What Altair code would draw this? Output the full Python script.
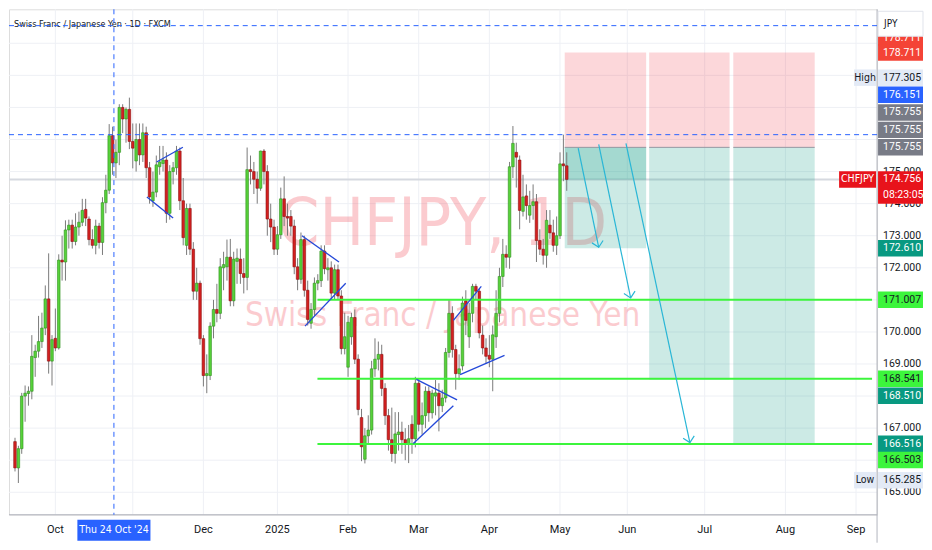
import altair as alt
import pandas as pd

# ---------------- data ----------------
opens = [166.58,165.76,166.36,168.00,168.08,168.15,169.20,169.40,169.70,170.12,
         171.03,169.09,169.80,169.50,172.24,172.18,173.18,173.33,172.82,173.27,
         173.42,173.82,173.52,172.88,172.70,173.30,172.79,174.03,174.42,176.12,
         175.27,175.60,177.00,176.64,176.94,175.94,175.33,176.00,175.52,176.21,
         175.12,174.09,174.36,175.15,175.25,175.36,173.70,175.00,175.12,175.64,
         174.09,172.70,173.85,172.58,171.27,171.52,169.79,168.64,168.64,170.18,
         170.70,170.58,172.00,172.03,172.33,170.97,172.20,172.27,171.82,171.70,
         175.06,175.00,174.76,174.48,175.64,175.00,173.52,173.27,172.58,173.03,
         174.15,173.60,173.60,173.30,172.03,171.64,172.88,171.30,170.27,170.70,
         171.52,171.60,172.52,171.94,172.00,171.21,171.94,171.12,169.48,168.90,
         169.85,170.45,169.15,167.33,166.03,166.76,166.94,168.85,169.15,169.30,
         168.24,167.39,166.64,166.21,166.80,166.88,166.64,166.50,167.12,166.67,
         168.40,167.12,167.39,168.15,167.48,168.00,168.09,167.70,167.94,169.36,
         170.58,169.45,168.70,168.94,170.97,169.85,170.58,171.42,171.27,169.90,
         169.50,169.27,169.15,169.85,170.58,171.73,172.42,172.33,175.15,175.60,
         175.36,173.76,174.24,173.64,173.94,174.06,172.85,172.58,172.39,173.33,
         173.09,172.70,173.00,175.24,175.18]
highs = [166.70,166.45,168.10,168.33,168.30,169.90,169.60,170.50,170.60,171.45,
         172.45,169.90,170.73,172.42,173.00,173.48,173.50,173.50,173.70,173.75,
         174.15,174.15,173.60,173.20,173.50,173.40,174.20,174.90,176.48,176.40,
         176.00,177.10,177.10,177.00,177.305,176.50,176.50,176.50,176.50,176.40,
         175.30,175.00,175.50,175.80,175.80,175.60,175.20,175.30,175.80,175.75,
         174.80,174.00,174.00,172.80,172.00,171.60,169.90,169.30,170.30,171.00,
         171.50,172.30,172.50,172.88,172.90,172.50,172.60,172.60,172.30,175.75,
         175.50,175.30,175.00,175.65,175.70,175.20,174.00,173.50,173.30,174.50,
         174.85,174.00,173.80,173.50,172.30,173.10,173.00,171.60,170.90,171.70,
         171.80,172.70,172.70,172.30,172.20,172.10,172.10,171.30,170.60,170.50,
         170.60,170.70,169.30,167.60,167.00,167.40,169.10,169.80,169.70,169.60,
         168.40,167.60,167.64,167.50,167.50,167.20,167.00,167.10,167.40,168.60,
         168.55,167.80,168.30,168.30,168.20,168.50,168.40,168.20,169.50,171.00,
         170.80,169.60,169.30,171.10,171.30,170.90,171.50,171.50,171.35,170.20,
         169.80,169.90,170.20,171.30,172.00,172.90,172.70,175.30,176.42,175.90,
         175.50,174.90,174.60,174.40,174.60,174.30,173.20,172.90,173.80,173.80,
         173.50,173.60,175.60,176.15,175.60]
lows = [165.65,165.29,166.20,167.20,167.70,167.90,168.60,169.20,169.50,169.90,
        168.70,168.33,169.40,169.45,171.60,171.60,172.60,172.60,172.70,173.00,
        173.30,173.30,172.70,172.60,172.42,172.60,172.40,173.70,174.30,174.90,
        174.80,175.20,176.20,175.90,175.70,175.10,175.00,175.20,175.30,174.80,
        174.00,173.90,174.20,174.90,175.00,173.40,173.50,174.60,174.90,173.80,
        172.70,172.40,172.40,171.00,171.00,169.60,168.30,168.09,168.50,169.80,
        170.30,170.40,171.30,171.60,170.80,170.80,171.50,171.50,171.20,171.30,
        174.60,174.30,174.00,174.40,174.60,173.00,172.80,172.40,172.40,172.90,
        173.30,173.00,173.00,171.80,171.30,171.50,171.10,170.20,170.10,170.50,
        171.30,171.40,171.80,171.60,171.00,171.00,171.00,169.30,169.30,168.60,
        169.60,169.00,167.40,165.97,165.90,166.50,166.80,168.60,168.80,168.00,
        167.10,166.30,165.95,165.90,166.30,166.20,166.00,165.91,166.20,166.40,
        166.90,166.80,167.00,167.20,167.30,167.40,166.90,167.50,167.80,169.20,
        169.20,168.20,168.50,168.80,169.90,169.50,170.30,171.00,169.80,169.30,
        169.00,168.90,168.15,169.50,170.30,171.40,172.00,171.97,174.80,174.50,
        173.20,173.60,173.50,173.40,173.50,172.18,172.40,172.10,172.00,172.90,
        172.50,172.40,172.90,174.70,174.40]
closes = [165.76,166.36,168.00,168.09,168.15,169.24,169.40,169.70,170.12,171.03,
          169.09,169.76,169.50,172.24,172.18,173.18,173.33,172.82,173.27,173.42,
          173.79,173.55,172.88,172.70,173.30,172.79,174.03,174.42,176.12,175.27,
          175.60,177.00,176.64,176.94,175.94,175.73,176.00,175.52,176.21,175.12,
          174.21,174.36,175.21,175.30,175.36,173.70,175.00,175.12,175.64,174.09,
          172.94,173.85,172.58,171.27,171.52,169.79,168.64,168.70,170.18,170.70,
          170.58,172.03,172.10,172.33,170.97,172.27,172.30,171.82,171.70,175.06,
          175.00,174.76,174.48,175.64,175.00,173.52,173.27,172.58,173.03,174.15,
          173.60,173.55,173.30,172.03,171.64,172.88,171.30,170.39,170.70,171.52,
          171.60,172.52,171.97,172.00,171.21,171.94,171.12,169.48,169.85,170.30,
          170.45,169.15,167.58,166.42,166.76,166.94,168.85,169.15,169.30,168.24,
          167.39,166.64,166.21,166.82,166.88,166.64,166.50,166.67,166.67,168.40,
          167.12,167.39,168.15,167.48,168.09,168.10,167.70,167.94,169.36,170.58,
          169.45,168.70,168.85,170.90,170.36,170.58,171.42,171.27,169.97,169.50,
          169.24,169.15,169.91,170.58,171.73,172.42,172.33,175.15,175.88,175.45,
          173.79,174.21,173.94,173.94,174.06,172.85,172.58,172.39,173.48,173.09,
          172.70,173.00,175.24,175.18,174.756]

# time axis: grid at every month start, labels where the reference shows one
month_index = [12, 35, 56, 78, 99, 120, 141, 162, 182, 205, 229, 250]
label_index = [12, 56, 78, 99, 120, 141, 162, 182, 205, 229, 250]
label_text = ["Oct", "Dec", "2025", "Feb", "Mar", "Apr", "May", "Jun", "Jul", "Aug", "Sep"]
# price axis: grid at every integer, labels that are not hidden by badges
grid_prices = list(range(165, 180))
label_prices = [165, 167, 169, 170, 172, 173, 174, 175]

symbol_title = "Swiss Franc / Japanese Yen · 1D · FXCM"
watermark_big = "CHFJPY, 1D"
watermark_small = "Swiss Franc / Japanese Yen"
ticker = "CHFJPY"
currency = "JPY"
last_price = 174.756
countdown = "08:23:05"

pos_x0 = [163.4, 188.5, 213.5]
pos_x1 = [187.6, 212.4, 237.7]
pos_entry = [175.755, 175.755, 175.755]
pos_stop = [178.711, 178.711, 178.711]
pos_target = [172.610, 168.510, 166.516]

support_prices = [171.007, 168.541, 166.503]
support_start = 89.9

dashed_prices = [179.55, 176.151]
dashed_day = 29.4
dashed_day_label = "Thu 24 Oct '24"

trend_x0 = [42.1, 39.2, 85.3, 86.2, 119.3, 118.4, 130.3, 132.3]
trend_p0 = [175.30, 174.21, 173.00, 170.18, 168.52, 166.52, 170.36, 168.67]
trend_x1 = [49.9, 47.0, 96.3, 98.3, 131.4, 130.3, 138.6, 145.5]
trend_p1 = [175.76, 173.55, 172.18, 171.52, 167.88, 167.70, 171.42, 169.27]

arrow_x0 = [167.4, 173.5, 181.6]
arrow_p0 = [175.73, 175.85, 175.88]
arrow_x1 = [173.5, 183.0, 200.6]
arrow_p1 = [172.64, 171.06, 166.55]

badge_text = ["178.711", "178.711", "177.305", "176.151", "175.755", "175.755", "175.755",
              "172.610", "171.007", "168.541", "168.510", "166.516", "166.503", "165.285"]
badge_price = [178.711, 178.711, 177.305, 176.151, 175.755, 175.755, 175.755,
               172.610, 171.007, 168.541, 168.510, 166.516, 166.503, 165.285]

# ---------------- layout / style ----------------
W, H = 869, 506
XD = [-0.3, 254.75]
YD = [164.30, 180.06]
K = (YD[1] - YD[0]) / H
IPP = (XD[1] - XD[0]) / W

RED_B, LIGHT, BLUE, GRAY, TEAL, LIME = "#f44336", "#e3eaf6", "#2962ff", "#787b86", "#089981", "#3cf53c"
badge_shift = [-15, 0, -20, -40, -35, -17.5, 0, 0, 0, 0, 16, 0, 16, -3]
badge_bg = [RED_B, RED_B, LIGHT, BLUE, GRAY, GRAY, GRAY, TEAL, LIME, LIME, TEAL, TEAL, LIME, LIGHT]
badge_fg = ["white", "white", "#131722", "white", "white", "white", "white",
            "white", "#131722", "#131722", "white", "white", "#131722", "#131722"]

NARROW = "Liberation Sans Narrow, DejaVu Sans Condensed, Roboto"
FONT = "Roboto"
AXIS_C = "#b2b5be"
GRID_C = "#eef0f5"

xs = alt.Scale(domain=XD, nice=False, zero=False)
ys = alt.Scale(domain=YD, nice=False, zero=False)


def X(f):
    return alt.X(f, type="quantitative", scale=xs, axis=None, title=None)


def Y(f):
    return alt.Y(f, type="quantitative", scale=ys, axis=None, title=None)


one = pd.DataFrame({"a": [0]})

# grid, axis lines and tick labels
hgrid = alt.Chart(pd.DataFrame({"p": grid_prices})).mark_rule(color=GRID_C, strokeWidth=1).encode(y=Y("p"))
vgrid = alt.Chart(pd.DataFrame({"i": month_index})).mark_rule(color=GRID_C, strokeWidth=1).encode(x=X("i"))
ydf = pd.DataFrame({"p": label_prices, "t": [f"{v:.3f}" for v in label_prices]})
xdf = pd.DataFrame({"i": label_index, "t": label_text})
ylabels = alt.Chart(ydf).mark_text(align="left", baseline="middle", fontSize=10.5, font=FONT,
                                   color="#131722").encode(x=alt.value(W + 6), y=Y("p"), text="t:N")
xlabels = alt.Chart(xdf).mark_text(align="center", baseline="middle", fontSize=11, font=FONT,
                                   color="#131722").encode(x=X("i"), y=alt.value(H + 15.5), text="t:N")
right_line = alt.Chart(one).mark_rule(color=AXIS_C).encode(x=alt.value(W), y=alt.value(0), y2=alt.value(H + 28))
bottom_line = alt.Chart(one).mark_rule(color=AXIS_C).encode(x=alt.value(0), x2=alt.value(W), y=alt.value(H))

# watermark + title
wm1 = alt.Chart(pd.DataFrame({"t": [watermark_big]})).mark_text(
    font=NARROW, fontSize=66, color="#f23645", opacity=0.25, align="center", baseline="alphabetic"
).encode(x=alt.value(W * 0.4995), y=alt.value(236), text="t:N")
wm2 = alt.Chart(pd.DataFrame({"t": [watermark_small]})).mark_text(
    font=NARROW, fontSize=33, color="#f23645", opacity=0.25, align="center", baseline="alphabetic"
).encode(x=alt.value(W * 0.4995), y=alt.value(317), text="t:N")
title = alt.Chart(pd.DataFrame({"t": [symbol_title]})).mark_text(
    font=NARROW, fontSize=9, color="#131722", align="left", baseline="middle"
).encode(x=alt.value(5), y=alt.value(15), text="t:N")

# current price line
cur_line = alt.Chart(pd.DataFrame({"p": [last_price]})).mark_rule(color="#d6d9e0", strokeWidth=2).encode(y=Y("p"))

# positions
pos = pd.DataFrame({"x0": pos_x0, "x1": pos_x1, "entry": pos_entry, "stop": pos_stop, "target": pos_target})
pos_red = alt.Chart(pos).mark_rect(color="#f23645", opacity=0.2).encode(x=X("x0"), x2="x1", y=Y("entry"), y2="stop")
pos_green = alt.Chart(pos).mark_rect(color="#18a08a", opacity=0.22).encode(x=X("x0"), x2="x1", y=Y("entry"), y2="target")
pos_open = pos.iloc[:1].assign(cur=last_price)
pos_dark = alt.Chart(pos_open).mark_rect(color="#18a08a", opacity=0.22).encode(x=X("x0"), x2="x1", y=Y("entry"), y2="cur")
pos_line = alt.Chart(pos).mark_rule(color="#9598a1", strokeWidth=1).encode(x=X("x0"), x2="x1", y=Y("entry"))

# candles
df = pd.DataFrame({"o": opens, "h": highs, "l": lows, "c": closes})
df["i"] = range(len(df))
df["lo"] = df[["o", "c"]].min(axis=1)
df["hi"] = df[["o", "c"]].max(axis=1)
df["hi"] = df[["hi", "lo"]].apply(lambda r: max(r["hi"], r["lo"] + 0.035), axis=1)
df["dir"] = ["up" if c >= o else "down" for o, c in zip(df.o, df.c)]
wicks = alt.Chart(df).mark_rule(color="#7a7a7a", strokeWidth=1).encode(x=X("i"), y=Y("l"), y2="h")
bodies = alt.Chart(df).mark_bar(size=2.6, strokeWidth=0.6).encode(
    x=X("i"), y=Y("lo"), y2="hi",
    color=alt.Color("dir:N", scale=alt.Scale(domain=["up", "down"], range=["#57d23a", "#d42020"]), legend=None),
    stroke=alt.Stroke("dir:N", scale=alt.Scale(domain=["up", "down"], range=["#2f8f1f", "#8b1010"]), legend=None),
)

# support lines
sup = pd.DataFrame({"p": support_prices, "x0": support_start, "x1": XD[1]})
sup_lines = alt.Chart(sup).mark_rule(color=LIME, strokeWidth=2).encode(x=X("x0"), x2="x1", y=Y("p"))

# trend lines
tr = pd.DataFrame({"x0": trend_x0, "p0": trend_p0, "x1": trend_x1, "p1": trend_p1})
trends = alt.Chart(tr).mark_rule(color="#2448d8", strokeWidth=1.3).encode(x=X("x0"), x2="x1", y=Y("p0"), y2="p1")

# dashed lines
dh = alt.Chart(pd.DataFrame({"p": dashed_prices})).mark_rule(color=BLUE, strokeDash=[5, 4], strokeWidth=1).encode(y=Y("p"))
dv = alt.Chart(pd.DataFrame({"i": [dashed_day]})).mark_rule(color=BLUE, strokeDash=[5, 4], strokeWidth=1).encode(x=X("i"))

# arrows
ar = pd.DataFrame({"x0": arrow_x0, "p0": arrow_p0, "x1": arrow_x1, "p1": arrow_p1})
arrows = alt.Chart(ar).mark_rule(color="#29b6d6", strokeWidth=1.2).encode(x=X("x0"), x2="x1", y=Y("p0"), y2="p1")
heads = alt.Chart(ar).mark_point(shape="M -1 -1 L 0 0 L 1 -1", filled=False, size=130, angle=348,
                                 strokeWidth=1.2, color="#29b6d6", opacity=1).encode(x=X("x1"), y=Y("p1"))

# price badges
bdf = pd.DataFrame({"t": badge_text, "p": badge_price, "s": badge_shift, "bg": badge_bg, "fg": badge_fg})
bdf["c"] = bdf.p - bdf.s * K
bdf["top"] = bdf.c + 8.25 * K
bdf["bot"] = bdf.c - 8.25 * K
b_rect = alt.Chart(bdf).mark_rect().encode(x=alt.value(W + 1), x2=alt.value(W + 46), y=Y("top"), y2="bot",
                                           color=alt.Color("bg:N", scale=None))
b_text = alt.Chart(bdf).mark_text(align="left", baseline="middle", fontSize=10.5, font=FONT).encode(
    x=alt.value(W + 6), y=Y("c"), text="t:N", color=alt.Color("fg:N", scale=None))

tags = bdf.iloc[[2, 13]].assign(lab=["High", "Low"])
t_rect = alt.Chart(tags).mark_rect(color=LIGHT).encode(x=alt.value(W - 23), x2=alt.value(W - 1), y=Y("top"), y2="bot")
t_text = alt.Chart(tags).mark_text(align="center", baseline="middle", fontSize=10.5, font=NARROW, color="#131722").encode(
    x=alt.value(W - 12), y=Y("c"), text="lab:N")

cur = pd.DataFrame({"p": [last_price], "txt": [f"{last_price:.3f}"], "cd": [countdown], "tk": [ticker]})
cur["top"] = cur.p + 8.25 * K
cur["bot"] = cur.p - 24.5 * K
cur["bot1"] = cur.p - 8.25 * K
cur["c2"] = cur.p - 15.5 * K
CUR_RED = "#e8131b"
c_rect = alt.Chart(cur).mark_rect(color=CUR_RED).encode(x=alt.value(W + 1), x2=alt.value(W + 46), y=Y("top"), y2="bot")
c_text1 = alt.Chart(cur).mark_text(align="left", baseline="middle", fontSize=10.5, font=FONT, color="white").encode(
    x=alt.value(W + 6), y=Y("p"), text="txt:N")
c_text2 = alt.Chart(cur).mark_text(align="left", baseline="middle", fontSize=10.5, font=FONT, color="white").encode(
    x=alt.value(W + 6), y=Y("c2"), text="cd:N")
tk_rect = alt.Chart(cur).mark_rect(color=CUR_RED).encode(x=alt.value(W - 38), x2=alt.value(W - 1), y=Y("top"), y2="bot1")
tk_text = alt.Chart(cur).mark_text(align="center", baseline="middle", fontSize=10.5, font=NARROW, color="white").encode(
    x=alt.value(W - 19.5), y=Y("p"), text="tk:N")

# currency box
jpy_rect = alt.Chart(one).mark_rect(fill="white", stroke="#e0e3eb", strokeWidth=1).encode(
    x=alt.value(W + 1), x2=alt.value(W + 46), y=alt.value(2), y2=alt.value(27))
jpy_text = alt.Chart(pd.DataFrame({"t": [currency]})).mark_text(
    align="left", baseline="middle", fontSize=10, font=NARROW, color="#131722").encode(
    x=alt.value(W + 7), y=alt.value(15), text="t:N")

# bottom date badge
dd = pd.DataFrame({"i": [dashed_day], "t": [dashed_day_label]})
dd["a"] = dd.i - 37 * IPP
dd["b"] = dd.i + 37 * IPP
d_rect = alt.Chart(dd).mark_rect(color=BLUE).encode(x=X("a"), x2="b", y=alt.value(H + 5), y2=alt.value(H + 26))
d_text = alt.Chart(dd).mark_text(align="center", baseline="middle", fontSize=10.5, font=NARROW, color="white").encode(
    x=X("i"), y=alt.value(H + 15.5), text="t:N")

chart = alt.layer(
    hgrid, vgrid, ylabels, xlabels, right_line, bottom_line,
    wm1, wm2, title, cur_line, pos_red, pos_green, pos_dark, pos_line,
    wicks, bodies, sup_lines, trends, dh, dv, arrows, heads,
    b_rect, b_text, t_rect, t_text, c_rect, c_text1, c_text2, tk_rect, tk_text,
    jpy_rect, jpy_text, d_rect, d_text,
).properties(width=W, height=H, padding=0).configure_view(stroke=None).configure(background="white")

chart.save("out.html", embed_options={"renderer": "svg", "actions": False})
